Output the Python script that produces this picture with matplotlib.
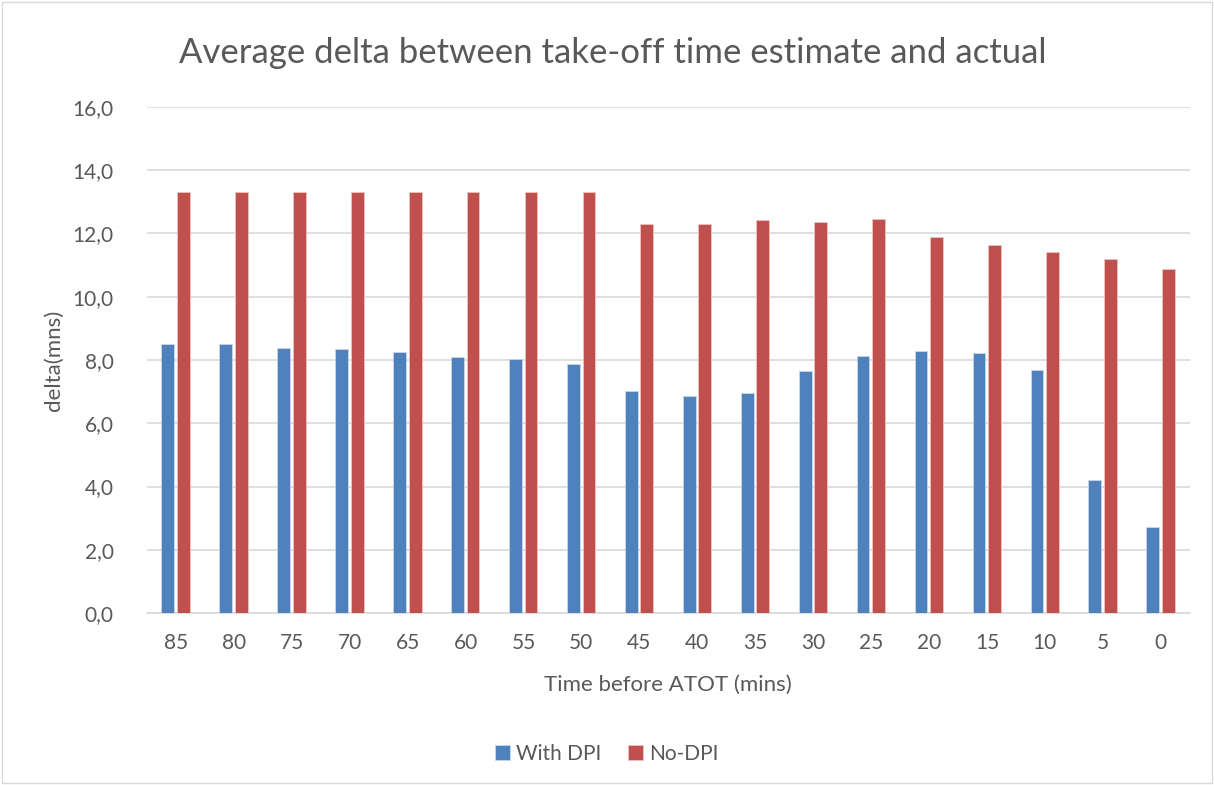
import matplotlib.pyplot as plt
from matplotlib.ticker import FuncFormatter
from matplotlib.patches import Rectangle
import numpy as np

plt.rcParams['font.family'] = ['Lato', 'DejaVu Sans']

categories = ['85', '80', '75', '70', '65', '60', '55', '50', '45',
              '40', '35', '30', '25', '20', '15', '10', '5', '0']
with_dpi = [8.50, 8.49, 8.39, 8.36, 8.24, 8.10, 8.03, 7.88, 7.02,
            6.86, 6.96, 7.66, 8.12, 8.27, 8.21, 7.69, 4.21, 2.73]
no_dpi = [13.32, 13.32, 13.32, 13.32, 13.32, 13.32, 13.32, 13.32, 12.29,
          12.29, 12.42, 12.36, 12.46, 11.87, 11.62, 11.40, 11.19, 10.87]

blue = '#4F81BD'
red = '#C0504D'
grey_txt = '#595959'

fig = plt.figure(figsize=(12.14, 7.85), dpi=100)
ax = fig.add_axes([0.121, 0.219, 0.859, 0.645])

x = np.arange(len(categories))
w = 0.22
ax.bar(x - 0.138, with_dpi, w, color=blue, edgecolor='#c9d6ea', linewidth=0.6,
       label='With DPI', zorder=3)
ax.bar(x + 0.13, no_dpi, w, color=red, edgecolor='#ecc4c3', linewidth=0.6,
       label='No-DPI', zorder=3)

ax.set_xlim(-0.5, len(categories) - 0.5)
ax.set_ylim(0, 16)
ax.set_yticks(np.arange(0, 17, 2))
ax.yaxis.set_major_formatter(FuncFormatter(lambda v, p: f'{v:.1f}'.replace('.', ',')))
ax.set_xticks(x)
ax.set_xticklabels(categories)
ax.grid(axis='y', color='#d9d9d9', linewidth=1.2, zorder=0)
for s in ['top', 'right', 'left']:
    ax.spines[s].set_visible(False)
ax.spines['bottom'].set_color('#d9d9d9')
ax.spines['bottom'].set_linewidth(1.2)
ax.tick_params(axis='both', length=0, labelsize=15, colors=grey_txt, pad=14)
ax.tick_params(axis='y', pad=24)

ax.set_xlabel('Time before ATOT (mins)', fontsize=16, color=grey_txt, labelpad=16)
ax.set_ylabel('delta(mns)', fontsize=16, color=grey_txt, labelpad=6)
fig.text(0.505, 0.933, 'Average delta between take-off time estimate and actual',
         ha='center', va='center', fontsize=25, color=grey_txt)

fig.legend(loc='center', bbox_to_anchor=(0.5, 0.04), ncol=2, frameon=False,
           fontsize=15, labelcolor=grey_txt, handlelength=0.7, handleheight=0.7,
           handletextpad=0.3, columnspacing=1.3)

fig.patches.append(Rectangle((0.002, 0.002), 0.996, 0.996, transform=fig.transFigure,
                             fill=False, edgecolor='#d9d9d9', linewidth=1))

fig.savefig('out.png', dpi=100)
